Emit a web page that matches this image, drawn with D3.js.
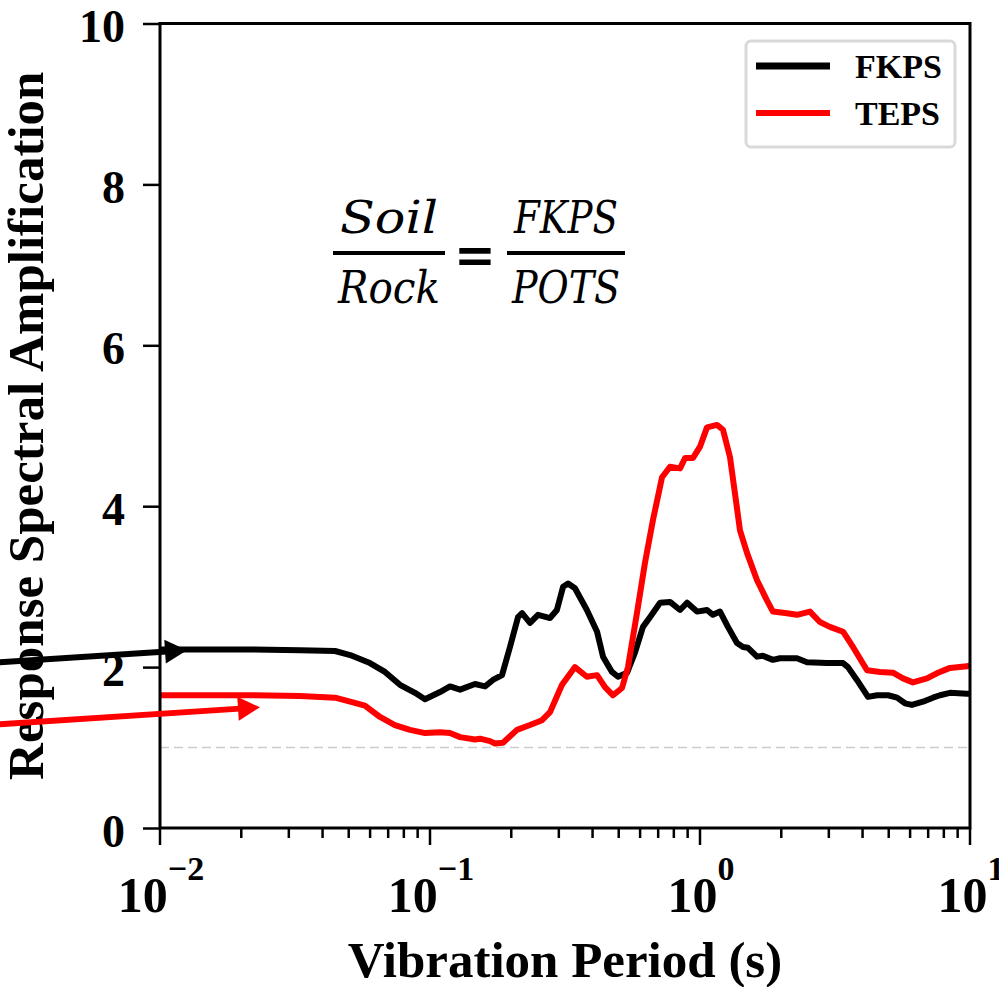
<!DOCTYPE html>
<html><head><meta charset="utf-8">
<script src="https://cdn.jsdelivr.net/npm/d3@7"></script>
<style>body{margin:0;background:#fff;} svg{display:block;}</style>
</head><body>
<svg id="chart" width="999" height="987"></svg>
<script>
// ---- data: [period (s), amplification] ----
const fkpsData = [
 [0.01,2.22],[0.0215,2.22],[0.0330,2.21],[0.0445,2.20],[0.0506,2.15],[0.0599,2.05],[0.0681,1.94],
 [0.0774,1.78],[0.0880,1.68],[0.0958,1.60],[0.1089,1.69],[0.1186,1.76],[0.1292,1.72],[0.1468,1.79],
 [0.1599,1.76],[0.1710,1.84],[0.1848,1.90],[0.1978,2.25],[0.2118,2.62],[0.2193,2.67],[0.2346,2.55],
 [0.2512,2.65],[0.2783,2.61],[0.2951,2.71],[0.3111,3.00],[0.3246,3.04],[0.3443,2.98],[0.3811,2.71],
 [0.4157,2.44],[0.4373,2.13],[0.4720,1.94],[0.4969,1.88],[0.5370,1.93],[0.5742,2.18],[0.6148,2.50],
 [0.6525,2.62],[0.7113,2.80],[0.7744,2.81],[0.8435,2.71],[0.8957,2.80],[0.9750,2.69],[1.0615,2.71],
 [1.1165,2.65],[1.1860,2.69],[1.2690,2.50],[1.3707,2.30],[1.4433,2.25],[1.5059,2.24],[1.6264,2.13],
 [1.7102,2.14],[1.8621,2.09],[1.9770,2.11],[2.2866,2.11],[2.4907,2.06],[2.9512,2.05],[3.3871,2.05],
 [3.5319,2.00],[3.8117,1.84],[4.1912,1.63],[4.5266,1.65],[4.9709,1.65],[5.3703,1.62],[5.7438,1.55],
 [6.0928,1.53],[6.6949,1.57],[7.2927,1.62],[7.7426,1.65],[8.4340,1.68],[9.7478,1.67],[10,1.67]
];
const tepsData = [
 [0.01,1.65],[0.0215,1.65],[0.0330,1.64],[0.0445,1.62],[0.0506,1.57],[0.0574,1.52],[0.0653,1.38],
 [0.0741,1.28],[0.0843,1.22],[0.0958,1.18],[0.1089,1.19],[0.1186,1.18],[0.1292,1.13],[0.1468,1.10],
 [0.1532,1.11],[0.1668,1.08],[0.1741,1.05],[0.1863,1.06],[0.2100,1.22],[0.2346,1.28],[0.2600,1.34],
 [0.2783,1.44],[0.3083,1.78],[0.3443,2.00],[0.3811,1.88],[0.4157,1.90],[0.4448,1.75],[0.4763,1.65],
 [0.5141,1.74],[0.5411,2.00],[0.5840,2.67],[0.6251,3.29],[0.6697,3.83],[0.7236,4.36],[0.7744,4.49],
 [0.8435,4.47],[0.8805,4.60],[0.9425,4.60],[1.0,4.74],[1.0615,4.98],[1.156,5.01],[1.2168,4.95],
 [1.2915,4.61],[1.4065,3.70],[1.4930,3.42],[1.6264,3.08],[1.7698,2.83],[1.8621,2.69],[2.0988,2.67],
 [2.2866,2.65],[2.5535,2.69],[2.7803,2.56],[3.0270,2.50],[3.3871,2.44],[3.6865,2.25],[4.1558,1.96],
 [4.6416,1.94],[5.1832,1.93],[5.6475,1.86],[6.1461,1.81],[6.9313,1.86],[7.6108,1.93],[8.4340,1.99],
 [9.7478,2.01],[10,2.02]
];
const seriesNames = ["FKPS", "TEPS"];
const seriesColors = ["#000000", "#ff0000"];
const yTicks = [0, 2, 4, 6, 8, 10];
const xTicks = [0.01, 0.1, 1, 10];
const xTickExponents = ["\u22122", "\u22121", "0", "1"];
const refLevel = 1;
// annotation arrows: [tail, tip] in data coordinates
const arrowBlack = [[0.00255, 2.06], [0.01259, 2.21]];
const arrowRed = [[0.00255, 1.29], [0.02346, 1.50]];

const svg = d3.select("#chart");
const x = d3.scaleLog().domain([0.01, 10]).range([160, 970]);
const y = d3.scaleLinear().domain([0, 10]).range([828, 23.5]);
const serif = "'Liberation Serif','Times New Roman',serif";

// reference dashed line
svg.append("line")
  .attr("x1", x(0.01)).attr("x2", x(10))
  .attr("y1", y(refLevel)).attr("y2", y(refLevel))
  .attr("stroke", "#cccccc").attr("stroke-width", 1.5)
  .attr("stroke-dasharray", "9,5");

// curves
const line = d3.line().x(d => x(d[0])).y(d => y(d[1]));
[fkpsData, tepsData].forEach((data, i) => {
  svg.append("path").datum(data)
    .attr("d", line)
    .attr("fill", "none")
    .attr("stroke", seriesColors[i])
    .attr("stroke-width", 6)
    .attr("stroke-linejoin", "round")
    .attr("stroke-linecap", "butt");
});

// axes
const yAxis = d3.axisLeft(y).tickValues(yTicks).tickSize(17).tickPadding(18).tickFormat(d3.format("d"));
const gy = svg.append("g").attr("transform", `translate(${x(0.01)},0)`).call(yAxis);
gy.select(".domain").remove();
gy.selectAll(".tick line").attr("stroke", "#000").attr("stroke-width", 2.5);
gy.selectAll(".tick text").attr("font-family", serif).attr("font-weight", "bold")
  .attr("font-size", 46).attr("fill", "#000").attr("dy", "0.4em");

// x axis: major ticks + minor ticks
const minor = [];
for (let e = -2; e < 1; e++) for (let m = 2; m <= 9; m++) minor.push(m * Math.pow(10, e));
const gx = svg.append("g");
gx.selectAll("line.minor").data(minor).enter().append("line")
  .attr("x1", d => x(d)).attr("x2", d => x(d))
  .attr("y1", y(0)).attr("y2", y(0) + 10)
  .attr("stroke", "#000").attr("stroke-width", 2.5);
gx.selectAll("line.major").data(xTicks).enter().append("line")
  .attr("x1", d => x(d)).attr("x2", d => x(d))
  .attr("y1", y(0)).attr("y2", y(0) + 17)
  .attr("stroke", "#000").attr("stroke-width", 2.5);
const xl = gx.selectAll("text.xl").data(xTicks).enter().append("text")
  .attr("x", d => x(d) + 1).attr("y", 912)
  .attr("text-anchor", "middle")
  .attr("font-family", serif).attr("font-weight", "bold").attr("fill", "#000");
xl.append("tspan").attr("font-size", 50).text("10");
xl.append("tspan").attr("font-size", 34).attr("dy", -32).text((d, i) => xTickExponents[i]);

// frame
svg.append("rect")
  .attr("x", x(0.01)).attr("y", y(10))
  .attr("width", x(10) - x(0.01)).attr("height", y(0) - y(10))
  .attr("fill", "none").attr("stroke", "#000").attr("stroke-width", 3);

// axis titles
svg.append("text")
  .attr("x", (x(0.01) + x(10)) / 2).attr("y", 977)
  .attr("text-anchor", "middle")
  .attr("font-family", serif).attr("font-weight", "bold").attr("font-size", 51)
  .text("Vibration Period (s)");
svg.append("text")
  .attr("transform", `translate(43,${(y(0) + y(10)) / 2}) rotate(-90)`)
  .attr("text-anchor", "middle")
  .attr("font-family", serif).attr("font-weight", "bold").attr("font-size", 51)
  .text("Response Spectral Amplification");

// legend
const lg = svg.append("g");
lg.append("rect").attr("x", 746).attr("y", 41).attr("width", 209).attr("height", 106)
  .attr("rx", 5).attr("fill", "#fff").attr("stroke", "#d9d9d9").attr("stroke-width", 3);
seriesNames.forEach((name, i) => {
  const ly = 66 + i * 47;
  lg.append("line").attr("x1", 756).attr("x2", 830).attr("y1", ly).attr("y2", ly)
    .attr("stroke", seriesColors[i]).attr("stroke-width", i === 0 ? 7 : 6);
  lg.append("text").attr("x", 855).attr("y", ly + 12)
    .attr("font-family", serif).attr("font-weight", "bold").attr("font-size", 34)
    .text(name);
});

// equation annotation
const eq = svg.append("g").attr("font-family", "'DejaVu Serif',serif").attr("font-style", "italic").attr("font-size", 44);
function frac(cx, x0, x1, num, den) {
  eq.append("text").attr("x", cx).attr("y", 233).attr("text-anchor", "middle")
    .attr("textLength", x1 - x0 - 14).attr("lengthAdjust", "spacingAndGlyphs").text(num);
  eq.append("line").attr("x1", x0).attr("x2", x1).attr("y1", 253).attr("y2", 253)
    .attr("stroke", "#000").attr("stroke-width", 4);
  eq.append("text").attr("x", cx).attr("y", 303).attr("text-anchor", "middle")
    .attr("textLength", x1 - x0 - 10).attr("lengthAdjust", "spacingAndGlyphs").text(den);
}
frac(389, 333, 445, "Soil", "Rock");
frac(566, 507, 625, "FKPS", "POTS");
eq.append("text").attr("x", 475).attr("y", 272).attr("text-anchor", "middle")
  .attr("font-style", "normal").attr("font-weight", "bold").attr("font-size", 50).text("=");

// arrows
function arrow(pts, color) {
  const [t0, t1] = pts;
  const x0 = x(t0[0]), y0 = y(t0[1]), x1 = x(t1[0]), y1 = y(t1[1]);
  const ang = Math.atan2(y1 - y0, x1 - x0);
  const L = 22, W = 12;
  const bx = x1 - L * Math.cos(ang), by = y1 - L * Math.sin(ang);
  svg.append("line").attr("x1", x0).attr("y1", y0).attr("x2", bx + 2 * Math.cos(ang)).attr("y2", by + 2 * Math.sin(ang))
    .attr("stroke", color).attr("stroke-width", 6);
  const p = [[x1, y1],
    [bx + W * Math.sin(ang), by - W * Math.cos(ang)],
    [bx - W * Math.sin(ang), by + W * Math.cos(ang)]];
  svg.append("polygon").attr("points", p.map(q => q.join(",")).join(" ")).attr("fill", color);
}
arrow(arrowBlack, seriesColors[0]);
arrow(arrowRed, seriesColors[1]);
</script>
</body></html>
